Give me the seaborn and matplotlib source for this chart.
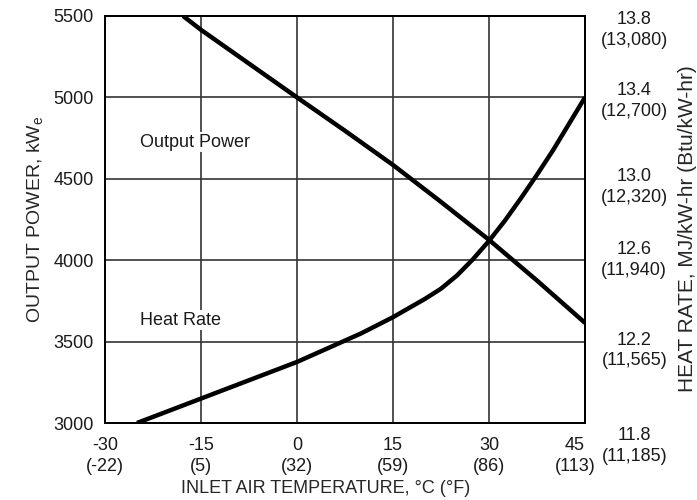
import matplotlib
matplotlib.use("Agg")
import matplotlib.pyplot as plt
import matplotlib.transforms as mtransforms
import seaborn as sns
import pandas as pd

# ---- data ----
power_temp_c = [-17.8, -15, 0, 7.5, 15, 22.5, 30, 37.5, 45]
power_kw = [5500, 5415, 5000, 4795, 4585, 4358, 4125, 3875, 3615]

hr_temp_c = [-25, -20, -15, -10, -5, 0, 5, 10, 15, 20, 22.5, 25, 27.5, 30,
             32.5, 35, 37.5, 40, 42.5, 45]
heat_rate = [11.80, 11.86, 11.92, 11.98, 12.04, 12.10, 12.17, 12.24, 12.32,
             12.41, 12.46, 12.525, 12.605, 12.695, 12.795, 12.905, 13.02,
             13.14, 13.27, 13.40]

x_ticks = [-30, -15, 0, 15, 30, 45]
x_tick_labels = ["-30\n(-22)", "-15\n(5)", "0\n(32)", "15\n(59)", "30\n(86)", "45\n(113)"]
left_ticks = [3000, 3500, 4000, 4500, 5000, 5500]
right_ticks = [11.8, 12.2, 12.6, 13.0, 13.4, 13.8]
right_tick_labels = ["11.8\n(11,185)", "12.2\n(11,565)", "12.6\n(11,940)",
                     "13.0\n(12,320)", "13.4\n(12,700)", "13.8\n(13,080)"]

sns.set_theme(style="white")
plt.rcParams["font.family"] = ["Liberation Sans", "DejaVu Sans"]
plt.rcParams["text.color"] = "#1a1a1a"

FS = 13

fig = plt.figure(figsize=(6.97, 5.0), dpi=100)
ax = fig.add_axes([105/697, 1-423/500, 480/697, 407/500])

df_p = pd.DataFrame({"t": power_temp_c, "p": power_kw})
df_h = pd.DataFrame({"t": hr_temp_c, "h": heat_rate})

sns.lineplot(data=df_p, x="t", y="p", ax=ax, color="black", linewidth=3.2,
             solid_capstyle="butt", zorder=5)
ax.set_xlim(-30, 45)
ax.set_ylim(3000, 5500)
ax.set_xticks(x_ticks)
ax.set_xticklabels(x_tick_labels, fontsize=FS, linespacing=1.3)
ax.set_yticks(left_ticks)
ax.set_yticklabels([str(v) for v in left_ticks], fontsize=FS)
ax.tick_params(axis="x", length=0, pad=10, colors="#1a1a1a")
ax.tick_params(axis="y", length=0, pad=8, colors="#1a1a1a")
ax.grid(True, color="#333333", linewidth=1.2)
for s in ax.spines.values():
    s.set_color("black")
    s.set_linewidth(1.3)
ax.set_xlabel("INLET AIR TEMPERATURE, °C (°F)", fontsize=FS, labelpad=4)
ax.xaxis.label.set_x((326 - 105) / 480)
ax.set_ylabel(r"OUTPUT POWER, kW$_\mathregular{e}$", fontsize=14, labelpad=5.5)

ax2 = ax.twinx()
sns.lineplot(data=df_h, x="t", y="h", ax=ax2, color="black", linewidth=3.2,
             solid_capstyle="butt", zorder=5)
ax2.set_ylim(11.8, 13.8)
ax2.set_yticks(right_ticks)
ax2.set_yticklabels(right_tick_labels, fontsize=FS, ha="center", linespacing=1.3)
ax2.tick_params(axis="y", length=0, pad=35.5, colors="#1a1a1a")
ax2.grid(False)
ax2.set_ylabel("HEAT RATE, MJ/kW-hr (Btu/kW-hr)", fontsize=15)
ax2.yaxis.set_label_coords(1.193, 0.477)
for s in ax2.spines.values():
    s.set_color("black")
    s.set_linewidth(1.3)

# small label placement nudges (pixels) to mimic the reference layout
def nudge(label, dx_px, dy_px):
    off = mtransforms.ScaledTranslation(dx_px / 100, dy_px / 100, fig.dpi_scale_trans)
    label.set_transform(label.get_transform() + off)

nudge(ax.get_xticklabels()[-1], -10, 0)
right_dy = [-19, -5, 4, -4, 0, -10]
for lab, dy in zip(ax2.get_yticklabels(), right_dy):
    nudge(lab, 0, dy)

ax.text(-24.5, 4725, "Output Power", fontsize=FS, va="center", ha="left",
        bbox=dict(facecolor="white", edgecolor="none", pad=1), zorder=6)
ax.text(-24.5, 3630, "Heat Rate", fontsize=FS, va="center", ha="left",
        bbox=dict(facecolor="white", edgecolor="none", pad=1), zorder=6)

fig.savefig("out.png", dpi=100)
